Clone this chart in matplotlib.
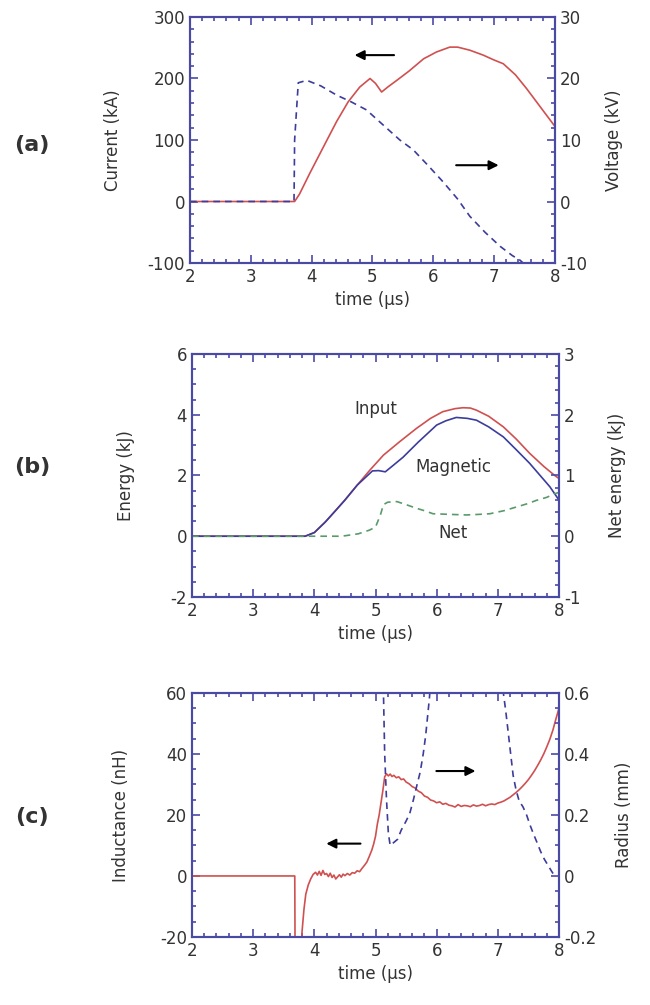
import numpy as np
import matplotlib
matplotlib.use("Agg")
import matplotlib.pyplot as plt
from matplotlib.ticker import MultipleLocator, FormatStrFormatter

plt.rcParams['font.family'] = ['DejaVu Sans']
plt.rcParams['font.size'] = 12
plt.rcParams['axes.unicode_minus'] = False

# (a) current and voltage
t_cur = [2, 3.72, 3.8, 3.97, 4.2, 4.41, 4.6, 4.79, 4.96, 5.05, 5.15, 5.25, 5.4,
         5.6, 5.84, 6.05, 6.27, 6.4, 6.6, 6.82, 7.0, 7.15, 7.35, 7.53, 7.75, 8.0]
current = [0, 0, 12, 46, 90, 130, 162, 186, 200, 192, 178, 186, 197,
           212, 232, 243, 251, 251, 246, 238, 230, 224, 206, 184, 155, 122]
t_volt = [2, 3.71, 3.72, 3.78, 3.92, 4.15, 4.41, 4.65, 4.9, 5.18, 5.45, 5.67,
          5.9, 6.16, 6.4, 6.6, 6.85, 7.1, 7.3, 7.42, 7.5]
voltage = [0, 0, 10, 19.3, 19.7, 18.8, 17.3, 16.2, 14.9, 12.4, 10.0, 8.4,
           6.0, 3.2, 0.4, -2.4, -5.0, -7.3, -8.8, -9.5, -10.2]

# (b) energies
t_in = [2, 3.85, 4.0, 4.18, 4.35, 4.5, 4.7, 4.91, 5.13, 5.4, 5.67, 5.9, 6.1,
        6.3, 6.43, 6.55, 6.65, 6.85, 7.09, 7.3, 7.52, 7.75, 7.93, 8.0]
e_input = [0, 0, 0.12, 0.47, 0.85, 1.19, 1.68, 2.18, 2.67, 3.12, 3.55, 3.88, 4.1,
           4.2, 4.23, 4.22, 4.15, 3.95, 3.6, 3.2, 2.73, 2.3, 2.0, 1.9]
t_mag = [2, 3.85, 4.0, 4.18, 4.35, 4.5, 4.7, 4.95, 5.05, 5.16, 5.3, 5.45, 5.7,
         6.0, 6.15, 6.32, 6.5, 6.65, 6.85, 7.09, 7.3, 7.52, 7.7, 7.85, 8.0]
e_mag = [0, 0, 0.12, 0.47, 0.85, 1.19, 1.68, 2.15, 2.16, 2.12, 2.35, 2.6, 3.1,
         3.66, 3.8, 3.91, 3.88, 3.82, 3.6, 3.27, 2.85, 2.4, 1.98, 1.63, 1.19]
t_net = [2, 3.85, 4.18, 4.45, 4.72, 4.9, 5.0, 5.08, 5.13, 5.2, 5.35, 5.5, 5.67,
         5.8, 5.94, 6.2, 6.49, 6.7, 6.87, 7.1, 7.3, 7.5, 7.63, 7.8, 7.93, 8.0]
e_net = [0, 0, 0, 0.0, 0.04, 0.1, 0.15, 0.35, 0.52, 0.56, 0.57, 0.52, 0.46,
         0.42, 0.37, 0.36, 0.35, 0.36, 0.37, 0.42, 0.48, 0.54, 0.59, 0.64, 0.70, 0.72]

# (c) inductance and radius
t_ind = [2, 3.68, 3.685, 3.78, 3.8, 3.83, 3.86, 3.9, 3.94, 3.98, 4.02, 4.05, 4.08,
         4.11, 4.14, 4.17, 4.2, 4.23, 4.26, 4.29, 4.32, 4.35, 4.38, 4.41, 4.44,
         4.47, 4.5, 4.54, 4.58, 4.62, 4.66, 4.7, 4.74, 4.78, 4.82, 4.86, 4.9,
         4.94, 4.97, 5.0, 5.03, 5.06, 5.09, 5.12, 5.15, 5.18, 5.21, 5.24, 5.27,
         5.3, 5.34, 5.38, 5.42, 5.46, 5.5, 5.55, 5.6, 5.65, 5.7, 5.75, 5.8, 5.85,
         5.9, 5.95, 6.0, 6.05, 6.1, 6.15, 6.2, 6.25, 6.3, 6.35, 6.4, 6.45, 6.5,
         6.55, 6.6, 6.65, 6.7, 6.75, 6.8, 6.85, 6.9, 6.95, 7.0, 7.05, 7.1, 7.15,
         7.2, 7.25, 7.3, 7.35, 7.4, 7.45, 7.5, 7.55, 7.6, 7.65, 7.7, 7.75, 7.8,
         7.85, 7.9, 7.95, 8.0]
inductance = [0, 0, -25, -25, -18, -11, -6, -3, -1, 0.5, 1.2, 0.3, 1.5,
              0.2, 1.8, 0.5, 0.8, -0.2, 0.9, -0.5, 0.3, -1.0, -0.3, 0.4, -0.4,
              0.6, 0.1, 0.8, 0.3, 1.1, 0.9, 1.7, 1.4, 2.5, 3.5, 4.6, 6.5,
              8.5, 10.5, 13, 17, 20, 24, 28, 32.5, 33.5, 32.8, 33.4, 32.6,
              33, 32.2, 32.5, 31.6, 31.8, 30.8, 30.2, 29.3, 28.8, 27.8, 27.3, 26.2, 25.8,
              24.9, 24.6, 24.0, 24.3, 23.5, 23.8, 23.2, 23.0, 22.6, 23.4, 22.8, 23.1, 23.0,
              22.7, 23.3, 22.9, 23.1, 23.5, 23.0, 23.4, 23.6, 23.4, 23.9, 24.2, 24.6, 25.2,
              25.8, 26.6, 27.4, 28.3, 29.3, 30.4, 31.6, 33.0, 34.5, 36.2, 38.0, 40.0, 42.3,
              44.8, 47.8, 51.5, 55]
t_rad = [5.12, 5.13, 5.15, 5.18, 5.21, 5.24, 5.3, 5.36, 5.42, 5.5, 5.56, 5.62,
         5.68, 5.73, 5.78, 5.82, 5.85, 5.88, 5.9, np.nan,
         7.08, 7.09, 7.13, 7.17, 7.21, 7.25, 7.3, 7.35, 7.41, 7.47, 7.53, 7.58,
         7.64, 7.7, 7.76, 7.82, 7.88, 7.93]
radius = [0.7, 0.6, 0.4, 0.25, 0.14, 0.10, 0.11, 0.12, 0.15, 0.18, 0.205, 0.25,
          0.3, 0.34, 0.4, 0.46, 0.52, 0.58, 0.63, np.nan,
          0.65, 0.6, 0.54, 0.47, 0.40, 0.33, 0.28, 0.245, 0.227, 0.2, 0.165, 0.139,
          0.11, 0.08, 0.055, 0.035, 0.015, 0.0]

frame = '#4a4aa5'
red = '#d05050'
blue = '#3c3c9c'
green = '#5a9a6a'
txt = '#333333'

fig = plt.figure(figsize=(6.5, 10.05), dpi=100)


def setup(ax, ax2, ylim, ymaj, ymin, ylim2, ymaj2, ymin2):
    ax.set_xlim(2, 8)
    ax.set_ylim(*ylim)
    ax2.set_ylim(*ylim2)
    ax.xaxis.set_major_locator(MultipleLocator(1))
    ax.xaxis.set_minor_locator(MultipleLocator(0.2))
    ax.yaxis.set_major_locator(MultipleLocator(ymaj))
    ax.yaxis.set_minor_locator(MultipleLocator(ymin))
    ax2.yaxis.set_major_locator(MultipleLocator(ymaj2))
    ax2.yaxis.set_minor_locator(MultipleLocator(ymin2))
    ax.yaxis.set_major_formatter(FormatStrFormatter('%g'))
    ax2.yaxis.set_major_formatter(FormatStrFormatter('%g'))
    ax.tick_params(which='both', direction='in', top=True, right=False,
                   color=frame, labelcolor=txt, width=1.2)
    ax.tick_params(which='major', length=6)
    ax.tick_params(which='minor', length=3)
    ax2.tick_params(which='both', direction='in', color=frame, labelcolor=txt, width=1.2)
    ax2.tick_params(which='major', length=6)
    ax2.tick_params(which='minor', length=3)
    for a in (ax, ax2):
        for s in a.spines.values():
            s.set_color(frame)
            s.set_linewidth(1.5)
    ax.set_xlabel('time (µs)', color=txt)


def arrow(ax, x0, x1, y):
    ax.annotate('', xy=(x1, y), xytext=(x0, y),
                arrowprops=dict(arrowstyle='-|>', color='k', lw=1.5, mutation_scale=14))


# panel (a)
ax = fig.add_axes([0.2923, 0.7383, 0.5615, 0.2448])
ax2 = ax.twinx()
setup(ax, ax2, (-100, 300), 100, 20, (-10, 30), 10, 2)
ax.plot(t_cur, current, color=red, lw=1.2)
ax2.plot(t_volt, voltage, color=blue, lw=1.2, ls=(0, (4, 3)))
arrow(ax, 5.4, 4.66, 238)
arrow(ax, 6.33, 7.12, 59)
ax.set_ylabel('Current (kA)', color=txt)
ax2.set_ylabel('Voltage (kV)', color=txt)
ax.yaxis.set_label_coords(-0.185, 0.5)
ax2.yaxis.set_label_coords(1.137, 0.5)
fig.text(32 / 650, 1 - 145 / 1005, '(a)', fontsize=16, fontweight='bold',
         color=txt, ha='center', va='center')

# panel (b)
ax = fig.add_axes([0.2954, 0.4060, 0.5646, 0.2418])
ax2 = ax.twinx()
setup(ax, ax2, (-2, 6), 2, 0.5, (-1, 3), 1, 0.2)
ax.plot(t_in, e_input, color=red, lw=1.2)
ax.plot(t_mag, e_mag, color=blue, lw=1.2)
ax2.plot(t_net, e_net, color=green, lw=1.2, ls=(0, (4, 3)))
ax.text(5.0, 4.2, 'Input', color=txt, ha='center', va='center')
ax.text(6.27, 2.29, 'Magnetic', color=txt, ha='center', va='center')
ax.text(6.27, 0.09, 'Net', color=txt, ha='center', va='center')
ax.set_ylabel('Energy (kJ)', color=txt)
ax2.set_ylabel('Net energy (kJ)', color=txt)
ax.yaxis.set_label_coords(-0.155, 0.5)
ax2.yaxis.set_label_coords(1.134, 0.5)
fig.text(32 / 650, 1 - 467 / 1005, '(b)', fontsize=16, fontweight='bold',
         color=txt, ha='center', va='center')

# panel (c)
ax = fig.add_axes([0.2954, 0.0677, 0.5646, 0.2428])
ax2 = ax.twinx()
setup(ax, ax2, (-20, 60), 20, 5, (-0.2, 0.6), 0.2, 0.05)
ax.plot(t_ind, inductance, color=red, lw=1.2)
ax2.plot(t_rad, radius, color=blue, lw=1.2, ls=(0, (4, 3)))
arrow(ax, 4.8, 4.15, 10.6)
arrow(ax, 5.95, 6.68, 34.4)
ax.set_ylabel('Inductance (nH)', color=txt)
ax2.set_ylabel('Radius (mm)', color=txt)
ax.yaxis.set_label_coords(-0.17, 0.5)
ax2.yaxis.set_label_coords(1.153, 0.5)
fig.text(32 / 650, 1 - 817 / 1005, '(c)', fontsize=16, fontweight='bold',
         color=txt, ha='center', va='center')

fig.savefig('out.png', dpi=100)
